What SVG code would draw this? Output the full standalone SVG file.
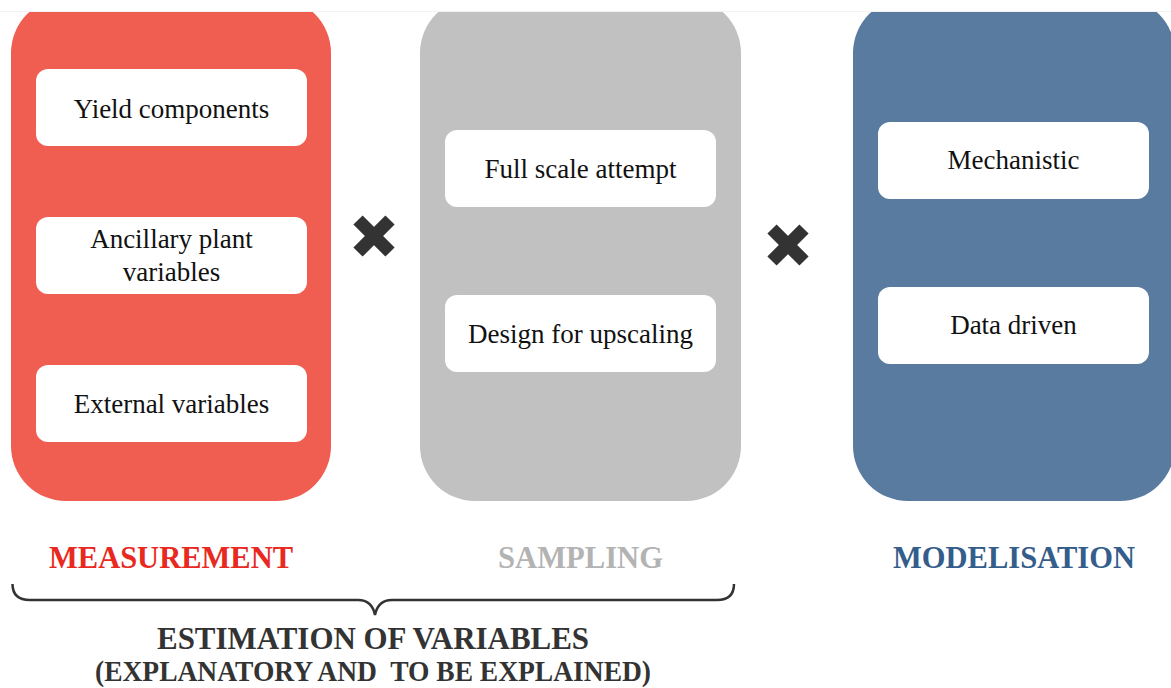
<svg xmlns="http://www.w3.org/2000/svg" width="1171" height="688" viewBox="0 0 1171 688">
<style>
.panel{stroke:none}
.box{fill:#ffffff}
.t{font-family:"Liberation Serif","Times New Roman",serif;font-size:27px;fill:#111;text-anchor:middle}
.lab{font-family:"Liberation Serif","Times New Roman",serif;font-size:32px;font-weight:bold;text-anchor:middle}
.x{stroke:#333;stroke-width:13;stroke-linecap:butt}
</style>
<rect x="0" y="0" width="1171" height="688" fill="#ffffff"/>
<g id="measurement">
<rect class="panel" x="11" y="-2" width="320" height="503" rx="55" fill="#f05e51"/>
<g id="yield"><rect class="box" x="36" y="69" width="271" height="77" rx="12"/><text class="t" x="171.5" y="118">Yield components</text></g>
<g id="ancillary"><rect class="box" x="36" y="217" width="271" height="77" rx="12"/><text class="t" x="171.5" y="248">Ancillary plant</text><text class="t" x="171.5" y="281">variables</text></g>
<g id="external"><rect class="box" x="36" y="365" width="271" height="77" rx="12"/><text class="t" x="171.5" y="413">External variables</text></g>
</g>
<g id="sampling">
<rect class="panel" x="420" y="-2" width="321" height="503" rx="55" fill="#c1c1c1"/>
<g id="fullscale"><rect class="box" x="445" y="130" width="271" height="77" rx="12"/><text class="t" x="580.5" y="178">Full scale attempt</text></g>
<g id="design"><rect class="box" x="445" y="295" width="271" height="77" rx="12"/><text class="t" x="580.5" y="343">Design for upscaling</text></g>
</g>
<g id="modelisation">
<rect class="panel" x="853" y="-2" width="322" height="503" rx="55" fill="#597b9f"/>
<g id="mechanistic"><rect class="box" x="878" y="122" width="271" height="77" rx="12"/><text class="t" x="1013.5" y="169">Mechanistic</text></g>
<g id="datadriven"><rect class="box" x="878" y="287" width="271" height="77" rx="12"/><text class="t" x="1013.5" y="334">Data driven</text></g>
</g>
<rect x="0" y="0" width="1171" height="11" fill="#ffffff"/>
<line x1="0" y1="11.5" x2="1171" y2="11.5" stroke="#f2f2f2" stroke-width="1"/>
<g id="times1"><line class="x" x1="358" y1="220" x2="390" y2="252"/><line class="x" x1="390" y1="220" x2="358" y2="252"/></g>
<g id="times2"><line class="x" x1="772" y1="229" x2="804" y2="261"/><line class="x" x1="804" y1="229" x2="772" y2="261"/></g>
<g id="labels">
<text class="lab" x="171" y="568" fill="#e8291f" textLength="244" lengthAdjust="spacingAndGlyphs">MEASUREMENT</text>
<text class="lab" x="580.5" y="568" fill="#b3b3b3" textLength="165" lengthAdjust="spacingAndGlyphs">SAMPLING</text>
<text class="lab" x="1014" y="568" fill="#345d8c" textLength="242" lengthAdjust="spacingAndGlyphs">MODELISATION</text>
</g>
<g id="connectors">
<path d="M 12.5 584 Q 12.5 600 30 600 L 358 600 Q 372 600 375 615 Q 378 600 392 600 L 717 600 Q 734 600 734 584" fill="none" stroke="#333" stroke-width="2.5"/>
</g>
<g id="estimation">
<text class="lab" x="373" y="649" fill="#333" textLength="432" lengthAdjust="spacingAndGlyphs">ESTIMATION OF VARIABLES</text>
<text class="lab" x="373" y="681" fill="#333" style="font-size:30px" textLength="556" lengthAdjust="spacingAndGlyphs" xml:space="preserve">(EXPLANATORY AND  TO BE EXPLAINED)</text>
</g>
</svg>
